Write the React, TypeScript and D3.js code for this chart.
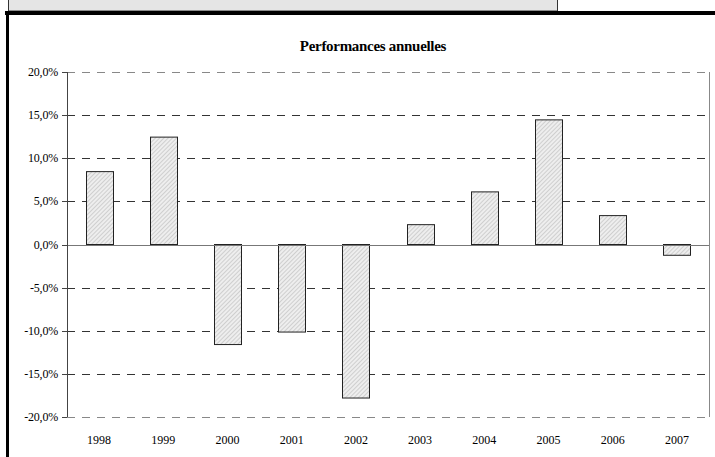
import React from "react";
import * as d3 from "d3";

const years = ["1998", "1999", "2000", "2001", "2002", "2003", "2004", "2005", "2006", "2007"];
const performances = [8.45, 12.45, -11.6, -10.15, -17.8, 2.3, 6.1, 14.45, 3.35, -1.25];
const yTicks = [20, 15, 10, 5, 0, -5, -10, -15, -20];
const title = "Performances annuelles";

const W = 715;
const H = 457;
const left = 67;
const right = 709;
const top = 72;
const bottom = 417;

export default function App() {
  const x = d3.scaleBand<string>().domain(years).range([left, right]).paddingInner(0.58).paddingOuter(0.29);
  const y = d3.scaleLinear().domain([-20, 20]).range([bottom, top]);
  const fmt = (v: number) => v.toFixed(1).replace(".", ",") + "%";
  const fontStyle = { fontFamily: "Liberation Serif, Times New Roman, serif" };

  return (
    <svg width={W} height={H} style={{ position: "absolute", left: 0, top: 0 }}>
      <defs>
        <pattern id="hatch" patternUnits="userSpaceOnUse" width="3" height="3" patternTransform="rotate(45)">
          <rect width="3" height="3" fill="#eeeeee" />
          <line x1="0" y1="0" x2="0" y2="3" stroke="#b0b0b0" strokeWidth="1" />
        </pattern>
      </defs>
      <rect x={0} y={0} width={W} height={H} fill="#fff" />
      {/* top gray box */}
      <rect x={8.5} y={-1} width={549} height={12} fill="#e5e5e5" stroke="#333" strokeWidth={1} />
      <rect x={5} y={11} width={710} height={4} fill="#000" />
      <rect x={6} y={11} width={3} height={H - 11} fill="#000" />

      <text x={373} y={51} textAnchor="middle" fontSize={15} fontWeight="bold" letterSpacing={-0.3} style={fontStyle}>
        {title}
      </text>

      {/* gridlines */}
      {yTicks.map((t) =>
        t === 0 ? null : (
          <line
            key={"g" + t}
            x1={left}
            x2={right}
            y1={Math.round(y(t)) + 0.5}
            y2={Math.round(y(t)) + 0.5}
            stroke={t === 20 || t === -20 ? "#888" : "#333"}
            strokeWidth={1}
            strokeDasharray="8,7"
          />
        )
      )}
      {/* right border */}
      <line x1={right + 0.5} x2={right + 0.5} y1={y(20)} y2={y(-20)} stroke="#888" />

      {/* bars */}
      {years.map((yr, i) => {
        const v = performances[i];
        const y0 = y(0);
        const y1 = y(v);
        return (
          <rect
            key={yr}
            x={Math.round(x(yr)!) + 0.5}
            y={Math.min(y0, y1)}
            width={Math.round(x.bandwidth())}
            height={Math.abs(y1 - y0)}
            fill="url(#hatch)"
            stroke="#222"
            strokeWidth={1}
          />
        );
      })}

      {/* zero line */}
      <line x1={left} x2={right} y1={Math.round(y(0)) + 0.5} y2={Math.round(y(0)) + 0.5} stroke="#777" />

      {/* y axis */}
      <line x1={left + 0.5} x2={left + 0.5} y1={y(20)} y2={y(-20)} stroke="#444" />
      {yTicks.map((t) => (
        <g key={"t" + t}>
          <line x1={left - 5} x2={left} y1={Math.round(y(t)) + 0.5} y2={Math.round(y(t)) + 0.5} stroke="#444" />
          <text x={58} y={y(t) + 4} textAnchor="end" fontSize={12} letterSpacing={-0.2} style={fontStyle}>
            {fmt(t)}
          </text>
        </g>
      ))}

      {/* x labels */}
      {years.map((yr) => (
        <text key={"l" + yr} x={x(yr)! + x.bandwidth() / 2} y={444} textAnchor="middle" fontSize={12} style={fontStyle}>
          {yr}
        </text>
      ))}
    </svg>
  );
}
